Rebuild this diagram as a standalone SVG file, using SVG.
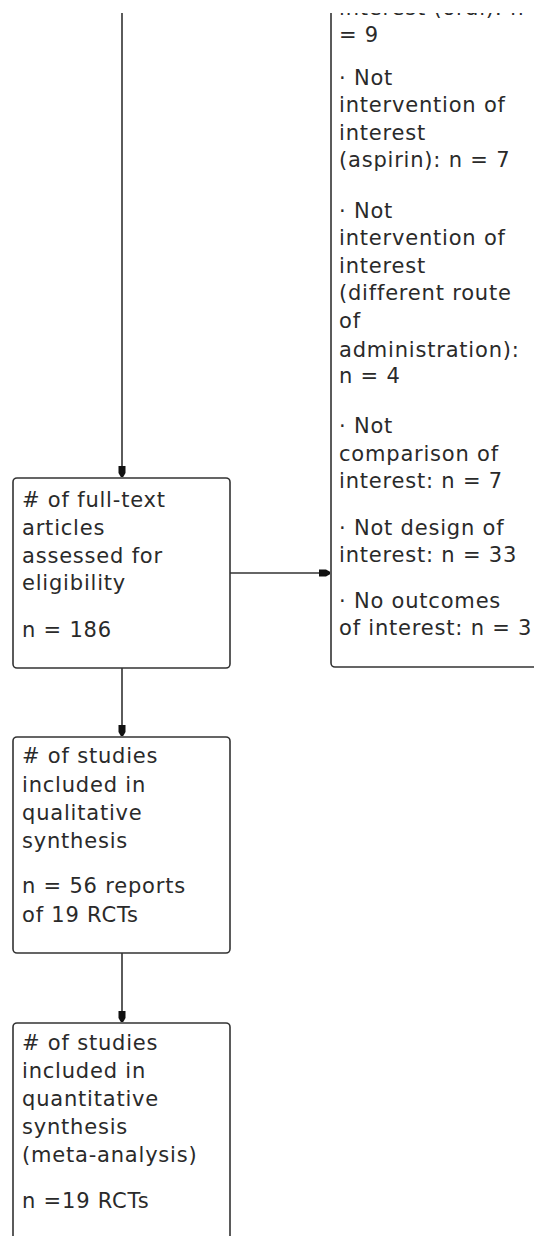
<svg xmlns="http://www.w3.org/2000/svg" width="534" height="1236" viewBox="0 0 534 1236">
<style>
.box{fill:#fff;stroke:#333;stroke-width:1.6}
.edge{fill:none;stroke:#333;stroke-width:1.6}
text{font-family:"DejaVu Sans","Liberation Sans",sans-serif;font-size:21px;fill:#2a2a2a;letter-spacing:0.8px}
</style>
<defs>
<marker id="arr" viewBox="-12 -5 13 10" refX="0" refY="0" markerWidth="13" markerHeight="10" markerUnits="userSpaceOnUse" orient="auto">
<path d="M-11,-3.5 L-4,-3.5 L0,-1.2 L0,1.2 L-4,3.5 L-11,3.5 Z" fill="#111"/>
</marker>
<clipPath id="view"><rect x="0" y="13" width="534" height="1223"/></clipPath>
</defs>
<g clip-path="url(#view)">
<g id="connectors">
<path class="edge" d="M122,0 V477" marker-end="url(#arr)"/>
<path class="edge" d="M122,668 V736" marker-end="url(#arr)"/>
<path class="edge" d="M122,953 V1022" marker-end="url(#arr)"/>
<path class="edge" d="M230,573 H330" marker-end="url(#arr)"/>
</g>
<g id="excluded">
<rect class="box" x="331" y="-60" width="300" height="727" rx="4"/>
<text x="339" y="15">interest (oral): n</text>
<text x="339" y="42">= 9</text>
<text x="339" y="85">· Not</text>
<text x="339" y="112">intervention of</text>
<text x="339" y="140">interest</text>
<text x="339" y="167">(aspirin): n = 7</text>
<text x="339" y="218">· Not</text>
<text x="339" y="245">intervention of</text>
<text x="339" y="273">interest</text>
<text x="339" y="300">(different route</text>
<text x="339" y="328">of</text>
<text x="339" y="357">administration):</text>
<text x="339" y="383">n = 4</text>
<text x="339" y="433">· Not</text>
<text x="339" y="461">comparison of</text>
<text x="339" y="488">interest: n = 7</text>
<text x="339" y="535">· Not design of</text>
<text x="339" y="562">interest: n = 33</text>
<text x="339" y="608">· No outcomes</text>
<text x="339" y="635">of interest: n = 3</text>
</g>
<g id="fulltext">
<rect class="box" x="13" y="478" width="217" height="190" rx="4"/>
<text x="22" y="507"># of full-text</text>
<text x="22" y="535">articles</text>
<text x="22" y="563">assessed for</text>
<text x="22" y="590">eligibility</text>
<text x="22" y="637">n = 186</text>
</g>
<g id="qualitative">
<rect class="box" x="13" y="737" width="217" height="216" rx="4"/>
<text x="22" y="763"># of studies</text>
<text x="22" y="792">included in</text>
<text x="22" y="820">qualitative</text>
<text x="22" y="848">synthesis</text>
<text x="22" y="893">n = 56 reports</text>
<text x="22" y="922">of 19 RCTs</text>
</g>
<g id="quantitative">
<rect class="box" x="13" y="1023" width="217" height="260" rx="4"/>
<text x="22" y="1050"># of studies</text>
<text x="22" y="1078">included in</text>
<text x="22" y="1106">quantitative</text>
<text x="22" y="1134">synthesis</text>
<text x="22" y="1162">(meta-analysis)</text>
<text x="22" y="1208">n =19 RCTs</text>
</g>
</g>
</svg>
